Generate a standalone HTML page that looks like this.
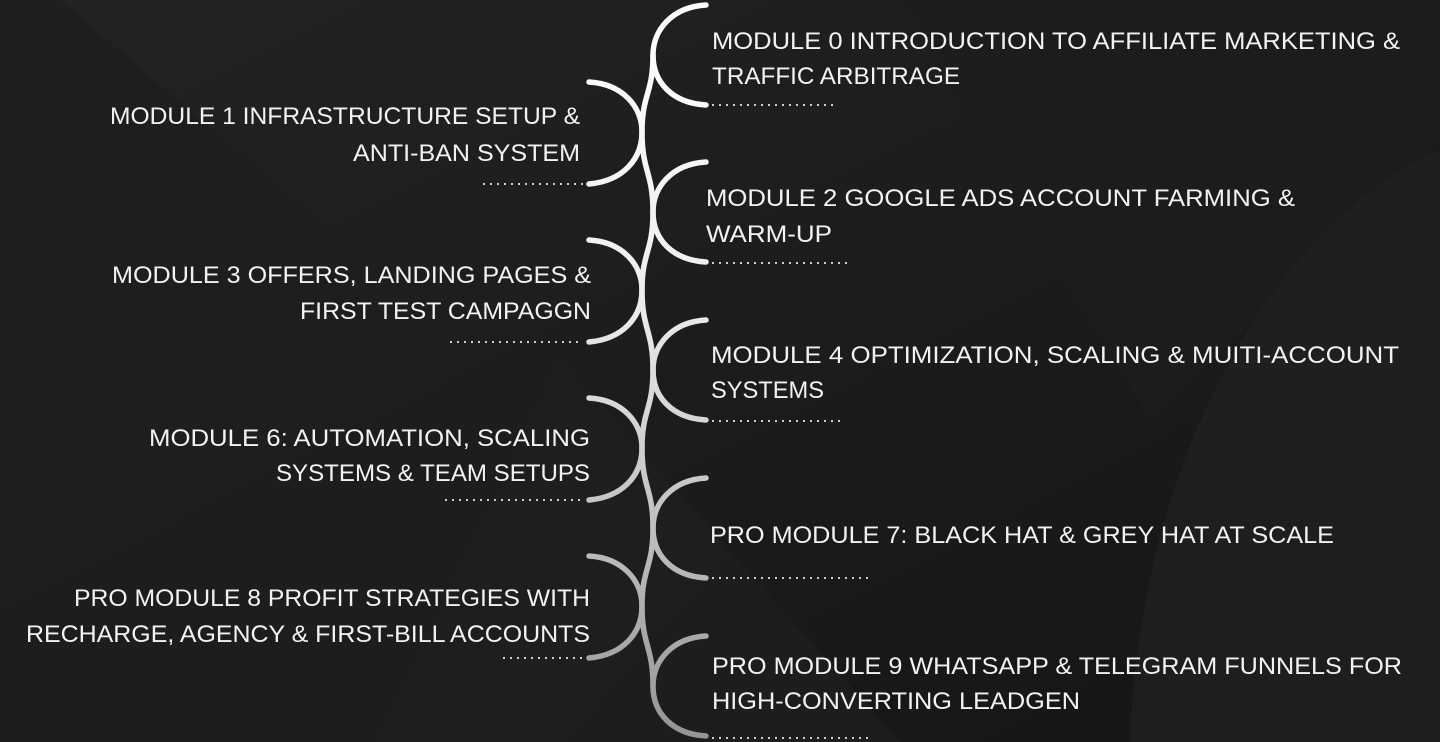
<!DOCTYPE html>
<html><head><meta charset="utf-8"><style>
html,body{margin:0;padding:0;background:#1a1a1a;}
svg{display:block}
text{font-family:"Liberation Sans",sans-serif;font-size:24px;fill:#f2f2f2;}
</style></head><body>
<svg width="1440" height="742" viewBox="0 0 1440 742" xmlns="http://www.w3.org/2000/svg">
<defs>
<linearGradient id="bg" x1="0" y1="0" x2="1" y2="1">
<stop offset="0" stop-color="#232323"/><stop offset="1" stop-color="#151515"/>
</linearGradient>
<linearGradient id="sg" gradientUnits="userSpaceOnUse" x1="0" y1="0" x2="0" y2="742">
<stop offset="0" stop-color="#ffffff"/><stop offset="0.4" stop-color="#eeeeee"/><stop offset="1" stop-color="#949494"/>
</linearGradient>
</defs>
<rect width="1440" height="742" fill="url(#bg)"/>
<polygon points="0,0 60,0 720,560 560,742 0,742" fill="#1e1e1e" opacity="0.8"/>
<polygon points="560,360 900,742 380,742" fill="#202020" opacity="0.7"/>
<polygon points="900,0 1440,0 1440,140 1150,420" fill="#1d1d1d" opacity="0.8"/>
<path d="M1130,742 C1140,450 1280,220 1440,150 L1440,742 Z" fill="#202020" opacity="0.8"/>
<g fill="none" stroke="url(#sg)" stroke-width="5.5" stroke-linecap="round">
<path d="M706,5 C672,7 653,30 653,55 C653,82 672,103 706,105"/>
<path d="M706,162 C672,164 653,187 653,212 C653,239 672,260 706,262"/>
<path d="M706,320 C672,322 653,345 653,370 C653,397 672,418 706,420"/>
<path d="M706,478 C672,480 653,503 653,528 C653,555 672,576 706,578"/>
<path d="M706,636 C672,638 653,661 653,686 C653,713 672,734 706,736"/>
<path d="M589,82 C623,84 642,107 642,132 C642,159 623,181 589,184"/>
<path d="M589,240 C623,242 642,265 642,290 C642,317 623,339 589,342"/>
<path d="M589,398 C623,400 642,423 642,448 C642,475 623,497 589,500"/>
<path d="M589,556 C623,558 642,581 642,606 C642,633 623,655 589,658"/>
<path d="M653,55 C653,94 642,94 642,132 C642,172 653,172 653,212 C653,252 642,252 642,290 C642,330 653,330 653,370 C653,410 642,410 642,448 C642,488 653,488 653,528 C653,568 642,568 642,606 C642,646 653,646 653,686"/>
</g>
<g stroke="#cfcfcf" stroke-width="2" stroke-dasharray="2 5">
<line x1="712" y1="105" x2="838" y2="105"/>
<line x1="712" y1="263" x2="848" y2="263"/>
<line x1="712" y1="421" x2="842" y2="421"/>
<line x1="712" y1="578" x2="872" y2="578"/>
<line x1="712" y1="738" x2="872" y2="738"/>
<line x1="483" y1="184" x2="583" y2="184"/>
<line x1="450" y1="342" x2="583" y2="342"/>
<line x1="445" y1="500" x2="583" y2="500"/>
<line x1="503" y1="658" x2="583" y2="658"/>
</g>
<text x="712" y="49" textLength="688" lengthAdjust="spacingAndGlyphs">MODULE 0 INTRODUCTION TO AFFILIATE MARKETING &amp;</text>
<text x="712" y="84" textLength="248" lengthAdjust="spacingAndGlyphs">TRAFFIC ARBITRAGE</text>
<text x="110" y="124" textLength="470" lengthAdjust="spacingAndGlyphs">MODULE 1 INFRASTRUCTURE SETUP &amp;</text>
<text x="353" y="161" textLength="227" lengthAdjust="spacingAndGlyphs">ANTI-BAN SYSTEM</text>
<text x="706" y="206" textLength="589" lengthAdjust="spacingAndGlyphs">MODULE 2 GOOGLE ADS ACCOUNT FARMING &amp;</text>
<text x="706" y="242" textLength="126" lengthAdjust="spacingAndGlyphs">WARM-UP</text>
<text x="112" y="283" textLength="479" lengthAdjust="spacingAndGlyphs">MODULE 3 OFFERS, LANDING PAGES &amp;</text>
<text x="300" y="319" textLength="291" lengthAdjust="spacingAndGlyphs">FIRST TEST CAMPAGGN</text>
<text x="711" y="363" textLength="688" lengthAdjust="spacingAndGlyphs">MODULE 4 OPTIMIZATION, SCALING &amp; MUITI-ACCOUNT</text>
<text x="711" y="398" textLength="113" lengthAdjust="spacingAndGlyphs">SYSTEMS</text>
<text x="149" y="446" textLength="441" lengthAdjust="spacingAndGlyphs">MODULE 6: AUTOMATION, SCALING</text>
<text x="276" y="481" textLength="314" lengthAdjust="spacingAndGlyphs">SYSTEMS &amp; TEAM SETUPS</text>
<text x="710" y="543" textLength="624" lengthAdjust="spacingAndGlyphs">PRO MODULE 7: BLACK HAT &amp; GREY HAT AT SCALE</text>
<text x="74" y="606" textLength="516" lengthAdjust="spacingAndGlyphs">PRO MODULE 8 PROFIT STRATEGIES WITH</text>
<text x="26" y="642" textLength="564" lengthAdjust="spacingAndGlyphs">RECHARGE, AGENCY &amp; FIRST-BILL ACCOUNTS</text>
<text x="712" y="674" textLength="690" lengthAdjust="spacingAndGlyphs">PRO MODULE 9 WHATSAPP &amp; TELEGRAM FUNNELS FOR</text>
<text x="712" y="709" textLength="368" lengthAdjust="spacingAndGlyphs">HIGH-CONVERTING LEADGEN</text>
</svg>
</body></html>
